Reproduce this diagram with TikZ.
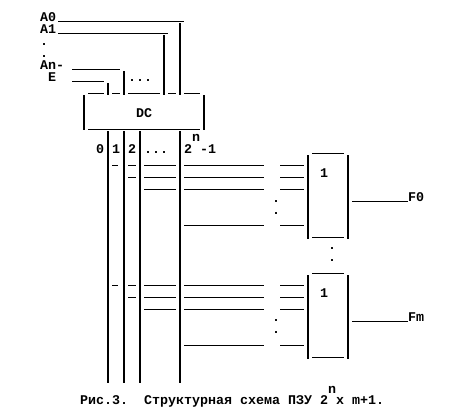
\documentclass[tikz,border=0pt]{standalone}
\usepackage{fontspec}
\setmainfont{Liberation Mono}[BoldFont={Liberation Mono Bold}]
\tikzset{
  txt/.style={inner sep=0pt,outer sep=0pt,anchor=base west,font=\fontsize{10pt}{10pt}\selectfont\bfseries},
  hl/.style={line width=0.75pt,black},
  vl/.style={line width=1.5pt,black}
}
\begin{document}
\begin{tikzpicture}[x=0.75pt,y=-0.75pt]
\useasboundingbox[fill=white] (0,0) rectangle (467,412);
% labels
\node[txt] (a0) at (40,21) {A0};
\node[txt] (a1) at (40,33) {A1};
\node[txt] (d1) at (40,45) {.};
\node[txt] (d2) at (40,57) {.};
\node[txt] (an) at (40,69) {An-};
\node[txt] (e) at (48,81) {E};
\node[txt] (dtop) at (128,81) {...};
\node[txt] (dc) at (136,117) {DC};
\node[txt] (n0) at (96,153) {0};
\node[txt] (n1) at (112,153) {1};
\node[txt] (n2) at (128,153) {2};
\node[txt] (nd) at (144,153) {...};
\node[txt] (n3) at (184,153) {2};
\node[txt] (nn) at (192,141) {n};
\node[txt] (n4) at (200,153) {-1};
\node[txt] (b1) at (320,177) {1};
\node[txt] (b2) at (320,297) {1};
\node[txt] (f0) at (408,201) {F0};
\node[txt] (fm) at (408,321) {Fm};
\node[txt] (cap) at (80,404.5) {Рис.3.~~Структурная схема ПЗУ 2 x m+1.};
\node[txt] (capn) at (328,393) {n};
\node[txt] (v1) at (272,202) {.};
\node[txt] (v2) at (272,214) {.};
\node[txt] (v3) at (328,249) {.};
\node[txt] (v4) at (328,261) {.};
\node[txt] (v5) at (272,321) {.};
\node[txt] (v6) at (272,333) {.};
% address lines
\foreach \y/\a/\b in {21/58/184,33/58/168,69/72/120,81/72/104,
  93/88/104,93/112/120,93/128/160,93/168/176,93/184/200,129/88/200}
  \draw[hl] (\a,\y) -- (\b,\y);
\foreach \x/\a/\b in {180/23/95,164/35/95,124/71/95,108/83/95,84/95/130,204/95/130,
  108/131/383,124/131/383,140/131/383,180/131/383}
  \draw[vl] (\x,\a) -- (\x,\b);
% matrix rows and OR boxes
\foreach \o in {0,120}{
  \begin{scope}[yshift=-\o*0.75pt]
  \draw[hl] (112,165) -- (118,165);
  \foreach \y in {165,177}{\draw[hl] (128,\y) -- (136,\y);}
  \foreach \y in {165,177,189}{\draw[hl] (144,\y) -- (176,\y);}
  \foreach \y in {165,177,189,225}{\draw[hl] (184,\y) -- (264,\y); \draw[hl] (280,\y) -- (304,\y);}
  \draw[hl] (312,153) -- (344,153);
  \draw[hl] (312,237) -- (344,237);
  \draw[vl] (308,155) -- (308,239);
  \draw[vl] (348,155) -- (348,239);
  \draw[hl] (352,201) -- (408,201);
  \end{scope}
}
\end{tikzpicture}
\end{document}
